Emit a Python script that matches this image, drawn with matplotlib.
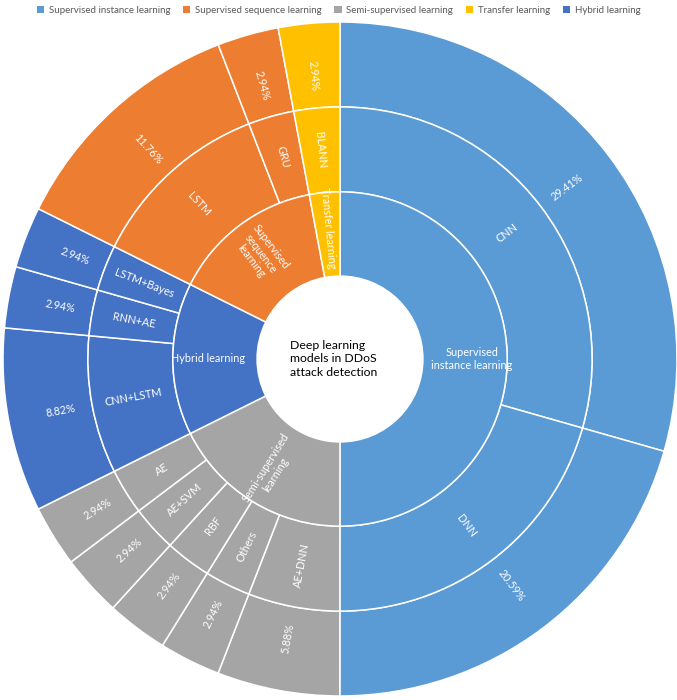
import matplotlib
matplotlib.use("Agg")
import matplotlib.pyplot as plt
import numpy as np

plt.rcParams['font.family'] = ['Lato', 'DejaVu Sans']

# inner ring: learning categories
groups = ['Supervised instance learning', 'Semi-supervised learning', 'Hybrid learning',
          'Supervised sequence learning', 'Transfer learning']
group_labels = ['Supervised\ninstance learning', 'Semi-supervised\nlearning', 'Hybrid learning',
                'Supervised\nsequence\nlearning', 'Transfer learning']
group_colors = ['#5B9BD5', '#A5A5A5', '#4472C4', '#ED7D31', '#FFC000']

# middle / outer rings: models and their share (%)
models = ['CNN', 'DNN',
          'AE+DNN', 'Others', 'RBF', 'AE+SVM', 'AE',
          'CNN+LSTM', 'RNN+AE', 'LSTM+Bayes',
          'LSTM', 'GRU',
          'BLANN']
shares = [29.41, 20.59,
          5.88, 2.94, 2.94, 2.94, 2.94,
          8.82, 2.94, 2.94,
          11.76, 2.94,
          2.94]
model_group = [0, 0, 1, 1, 1, 1, 1, 2, 2, 2, 3, 3, 4]
share_labels = ['29.41%', '20.59%', '5.88%', '2.94%', '2.94%', '2.94%', '2.94%',
                '8.82%', '2.94%', '2.94%', '11.76%', '2.94%', '2.94%']

# legend order as in the figure
legend_order = [0, 3, 1, 4, 2]

group_totals = [sum(s for s, g in zip(shares, model_group) if g == i) for i in range(len(groups))]
model_colors = [group_colors[g] for g in model_group]

fig = plt.figure(figsize=(6.77, 7.0), dpi=100)
R = 337
cx, cy = 340, 359
ax = fig.add_axes([(cx - R) / 677, (700 - cy - R) / 700, 2 * R / 677, 2 * R / 700])
ax.axis('off')

r_hole, r_in, r_mid, r_out = 0.246, 0.496, 0.748, 1.0
wp = dict(edgecolor='white', linewidth=1.1)

outer, _ = ax.pie(shares, radius=r_out, colors=model_colors, startangle=90, counterclock=False,
                  wedgeprops=dict(width=r_out - r_mid, **wp))
middle, _ = ax.pie(shares, radius=r_mid, colors=model_colors, startangle=90, counterclock=False,
                   wedgeprops=dict(width=r_mid - r_in, **wp))
inner, _ = ax.pie(group_totals, radius=r_in, colors=group_colors, startangle=90, counterclock=False,
                  wedgeprops=dict(width=r_in - r_hole, **wp))
ax.set_xlim(-1, 1)
ax.set_ylim(-1, 1)
ax.set_aspect('auto')


def radial_label(w, r, text, size=7.8):
    ang = (w.theta1 + w.theta2) / 2
    a = ((ang + 180) % 360) - 180
    if a > 90 or a < -90:
        rot = a - 180
    else:
        rot = a
    x = r * np.cos(np.radians(ang))
    y = r * np.sin(np.radians(ang))
    ax.text(x, y, text, rotation=rot, rotation_mode='anchor', ha='center', va='center',
            color='white', fontsize=size, linespacing=1.15)


for w, t in zip(outer, share_labels):
    radial_label(w, (r_mid + r_out) / 2 - 0.03, t)
for w, t in zip(middle, models):
    radial_label(w, (r_in + r_mid) / 2, t)
for w, t in zip(inner, group_labels):
    radial_label(w, (r_hole + r_in) / 2 + 0.02, t)

ax.text(-0.148, 0.0, 'Deep learning\nmodels in DDoS\nattack detection', ha='left', va='center',
        fontsize=8.8, color='black', linespacing=1.3)

leg = fig.legend([inner[i] for i in legend_order], [groups[i] for i in legend_order],
                 loc='upper center', bbox_to_anchor=(0.5, 1.004), ncol=5, frameon=False,
                 fontsize=7.0, handlelength=0.75, handleheight=0.75, handletextpad=0.5,
                 columnspacing=1.3, labelcolor='#595959')
for h in leg.legend_handles:
    h.set_edgecolor('none')

fig.savefig('out.png', dpi=100)
